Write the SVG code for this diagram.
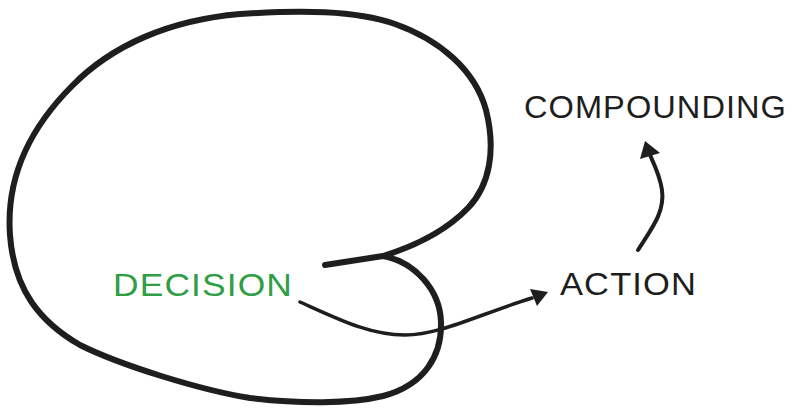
<svg xmlns="http://www.w3.org/2000/svg" width="800" height="411" viewBox="0 0 800 411">
<style>
.lbl{font-family:"Liberation Sans","DejaVu Sans",sans-serif;font-size:31px;fill:#1e1e1e;letter-spacing:1px}
.green{fill:#2f9e44}
.line{fill:none;stroke:#1e1e1e;stroke-linecap:round;stroke-linejoin:round}
</style>
<rect width="800" height="411" fill="#ffffff"/>
<g id="connectors">
<path id="loop" class="line" stroke-width="6" d="M325,265 L383,256 C415,262 440,290 441,322 C442,355 425,385 383,396 C350,404 300,404 250,398 C200,390 120,365 80,345 C40,322 14,290 10,235 C6,180 28,130 72,86 C112,45 170,20 240,14 C300,10 355,10 395,24 C440,40 475,70 486,110 C496,150 490,185 468,208 C445,232 415,246 383,256"/>
<path id="arrow-decision-action" class="line" stroke-width="3.5" d="M300,302 C340,320 370,335 405,335 C440,335 480,314 532,298"/>
<polygon points="548,292 530,289 537,306" fill="#1e1e1e"/>
<path id="arrow-action-compounding" class="line" stroke-width="4" d="M638,250 C652,228 665,212 662,190 C660,176 655,166 650,155"/>
<polygon points="645,141 640,159 660,153" fill="#1e1e1e"/>
</g>
<g id="decision"><text class="lbl green" x="113" y="296" textLength="180" lengthAdjust="spacingAndGlyphs">DECISION</text></g>
<g id="action"><text class="lbl" x="560" y="295" textLength="137" lengthAdjust="spacingAndGlyphs">ACTION</text></g>
<g id="compounding"><text class="lbl" x="524" y="118" textLength="263" lengthAdjust="spacingAndGlyphs">COMPOUNDING</text></g>
</svg>
